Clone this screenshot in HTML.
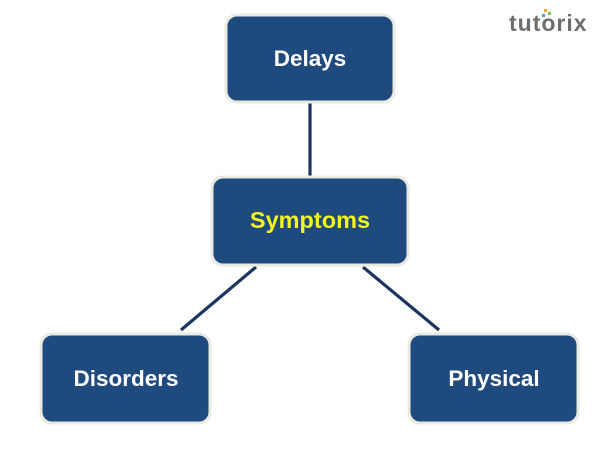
<!DOCTYPE html>
<html>
<head>
<meta charset="utf-8">
<style>
  html, body { margin:0; padding:0; background:#fff; }
  body { width:600px; height:461px; overflow:hidden; }
  svg { display:block; }
  text { font-family: "Liberation Sans", "DejaVu Sans", sans-serif; font-weight:bold; }
</style>
</head>
<body>
<svg width="600" height="461" viewBox="0 0 600 461" xmlns="http://www.w3.org/2000/svg">
  <rect width="600" height="461" fill="#ffffff"/>
  <!-- connectors -->
  <g stroke="#1b355f" stroke-width="3.2" stroke-linecap="butt">
    <line x1="310" y1="102" x2="310" y2="178"/>
    <line x1="256" y1="267" x2="181" y2="330"/>
    <line x1="363" y1="267" x2="439" y2="330"/>
  </g>
  <!-- boxes -->
  <g fill="#1f4a7e" stroke="#e9ebe2" stroke-width="3">
    <rect x="226" y="15" width="168" height="87" rx="11"/>
    <rect x="212" y="177" width="196" height="88" rx="11"/>
    <rect x="41" y="334" width="169" height="89" rx="11"/>
    <rect x="409" y="334" width="169" height="89" rx="11"/>
  </g>
  <!-- labels -->
  <g font-size="22.5" text-anchor="middle" fill="#ffffff">
    <text x="310" y="66">Delays</text>
    <text x="310" y="228" fill="#f5f51e" font-size="23.5">Symptoms</text>
    <text x="126" y="386">Disorders</text>
    <text x="494" y="386">Physical</text>
  </g>
  <!-- logo -->
  <text x="509" y="31" font-size="23" fill="#6e6e6e" letter-spacing="1">tutorix</text>
  <rect x="544" y="9" width="3" height="3" fill="#f2a33a"/>
  <rect x="548" y="12" width="3" height="3" fill="#7cc04b"/>
  <rect x="542" y="14" width="3" height="3" fill="#4aa3df"/>
</svg>
</body>
</html>
